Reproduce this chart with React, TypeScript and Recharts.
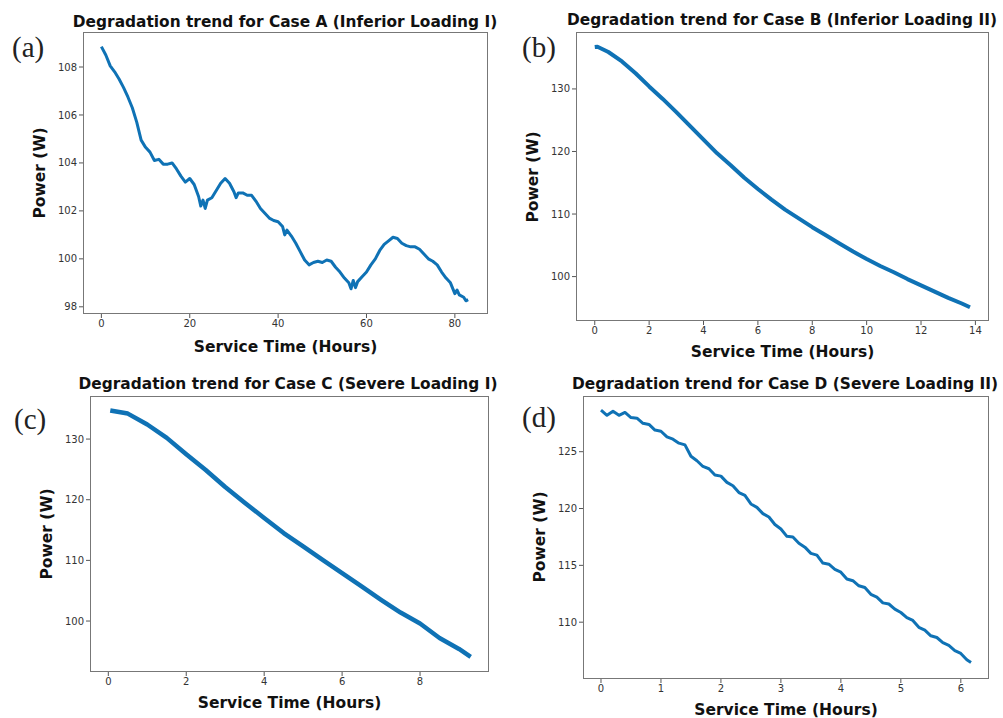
import { LineChart, Line, XAxis, YAxis } from "recharts";

// Case A (Inferior Loading I)
const hoursA = [
  0, 1, 2, 3, 4, 5, 6, 7, 8, 9, 10, 11, 12, 13, 14, 15, 16, 17, 18, 19, 20, 21, 22, 22.5, 23, 23.5, 24,
  25, 26, 27, 28, 29, 30, 30.5, 31, 32, 33, 34, 35, 36, 37, 38, 39, 40, 41, 41.5, 42, 43, 44, 45, 46,
  47, 48, 49, 50, 51, 52, 53, 54, 55, 56, 56.5, 57, 57.5, 58, 59, 60, 61, 62, 63, 64, 65, 66, 67, 68,
  69, 70, 71, 72, 73, 74, 75, 76, 77, 78, 79, 80, 80.5, 81, 82, 82.5, 83,
];
const powerA = [
  108.85, 108.5, 108.05, 107.8, 107.5, 107.15, 106.75, 106.3, 105.7, 104.95, 104.65, 104.45, 104.1,
  104.15, 103.95, 103.95, 104.0, 103.75, 103.45, 103.2, 103.35, 103.1, 102.6, 102.2, 102.45, 102.1,
  102.45, 102.55, 102.85, 103.15, 103.35, 103.15, 102.8, 102.55, 102.75, 102.75, 102.65, 102.65,
  102.4, 102.1, 101.9, 101.7, 101.6, 101.55, 101.35, 101.0, 101.2, 100.95, 100.65, 100.3, 99.95,
  99.75, 99.85, 99.9, 99.85, 99.95, 99.9, 99.65, 99.45, 99.2, 99.0, 98.75, 99.1, 98.8, 99.05, 99.25,
  99.45, 99.75, 100.0, 100.35, 100.6, 100.75, 100.9, 100.85, 100.65, 100.55, 100.5, 100.5, 100.4,
  100.2, 100.0, 99.9, 99.75, 99.45, 99.2, 99.0, 98.55, 98.7, 98.5, 98.4, 98.25, 98.3,
];

// Case B (Inferior Loading II)
const hoursB = [
  0, 0.1, 0.5, 1, 1.5, 2, 2.5, 3, 3.5, 4, 4.5, 5, 5.5, 6, 6.5, 7, 7.5, 8, 8.5, 9, 9.5, 10, 10.5, 11,
  11.5, 12, 12.5, 13, 13.5, 13.8,
];
const powerB = [
  136.7, 136.75, 135.9, 134.4, 132.5, 130.4, 128.4, 126.3, 124.1, 121.9, 119.7, 117.8, 115.8, 114.0,
  112.3, 110.7, 109.3, 107.9, 106.6, 105.3, 104.0, 102.8, 101.7, 100.7, 99.6, 98.6, 97.6, 96.6, 95.7,
  95.1,
];

// Case C (Severe Loading I)
const hoursC = [
  0.05, 0.5, 1, 1.5, 2, 2.5, 3, 3.5, 4, 4.5, 5, 5.5, 6, 6.5, 7, 7.5, 8, 8.5, 9, 9.3,
];
const powerC = [
  134.7, 134.2, 132.4, 130.2, 127.5, 124.9, 122.1, 119.5, 117.0, 114.5, 112.3, 110.1, 107.9, 105.7,
  103.5, 101.4, 99.6, 97.2, 95.4, 94.1,
];

// Case D (Severe Loading II)
const hoursD = [
  0, 0.1, 0.2, 0.3, 0.4, 0.5, 0.6, 0.7, 0.8, 0.9, 1.0, 1.1, 1.2, 1.3, 1.4, 1.5, 1.6, 1.7, 1.8, 1.9,
  2.0, 2.1, 2.2, 2.3, 2.4, 2.5, 2.6, 2.7, 2.8, 2.9, 3.0, 3.1, 3.2, 3.3, 3.4, 3.5, 3.6, 3.7, 3.8, 3.9,
  4.0, 4.1, 4.2, 4.3, 4.4, 4.5, 4.6, 4.7, 4.8, 4.9, 5.0, 5.1, 5.2, 5.3, 5.4, 5.5, 5.6, 5.7, 5.8, 5.9,
  6.0, 6.1, 6.17,
];
const powerD = [
  128.65, 128.2, 128.55, 128.2, 128.45, 128.0, 127.95, 127.5, 127.4, 126.9, 126.8, 126.3, 126.1,
  125.75, 125.6, 124.6, 124.2, 123.7, 123.5, 122.95, 122.85, 122.3, 122.0, 121.4, 121.15, 120.4,
  120.1, 119.55, 119.25, 118.6, 118.2, 117.55, 117.5, 116.95, 116.6, 116.05, 115.9, 115.2, 115.1,
  114.65, 114.4, 113.8, 113.65, 113.2, 113.05, 112.45, 112.2, 111.7, 111.6, 111.15, 110.85, 110.4,
  110.15, 109.55, 109.3, 108.8, 108.65, 108.2, 107.95, 107.5, 107.25, 106.7, 106.45,
];

const ticksXA = [0, 20, 40, 60, 80];
const ticksYA = [98, 100, 102, 104, 106, 108];
const ticksXB = [0, 2, 4, 6, 8, 10, 12, 14];
const ticksYB = [100, 110, 120, 130];
const ticksXC = [0, 2, 4, 6, 8];
const ticksYC = [100, 110, 120, 130];
const ticksXD = [0, 1, 2, 3, 4, 5, 6];
const ticksYD = [110, 115, 120, 125];

const LINE = "#0f72b5";
const SANS = "'DejaVu Sans', sans-serif";
const tickStyle = { fontSize: 10, fill: "#333", fontFamily: SANS };

type PanelProps = {
  hours: number[];
  power: number[];
  left: number;
  top: number;
  width: number;
  height: number;
  yAxisW: number;
  xAxisH: number;
  mTop: number;
  mRight: number;
  xDomain: [number, number];
  yDomain: [number, number];
  xTicks: number[];
  yTicks: number[];
  stroke: number;
  title: string;
  titleX: number;
  titleY: number;
  xLabelY: number;
  yLabelX: number;
  yLabelY: number;
  tag: string;
  tagX: number;
  tagY: number;
};

function Panel(p: PanelProps) {
  const rows = p.hours.map((t, i) => ({ t, p: p.power[i] }));
  const frameL = p.left + p.yAxisW;
  const frameT = p.top + p.mTop;
  const frameW = p.width - p.yAxisW - p.mRight;
  const frameH = p.height - p.mTop - p.xAxisH;
  return (
    <>
      <div style={{ position: "absolute", left: p.left, top: p.top }}>
        <LineChart
          width={p.width}
          height={p.height}
          data={rows}
          margin={{ top: p.mTop, right: p.mRight, bottom: 0, left: 0 }}
        >
          <XAxis
            dataKey="t"
            type="number"
            domain={p.xDomain}
            ticks={p.xTicks}
            allowDataOverflow
            height={p.xAxisH}
            axisLine={false}
            tickSize={4}
            tickLine={{ stroke: "#555" }}
            tick={tickStyle}
          />
          <YAxis
            type="number"
            domain={p.yDomain}
            ticks={p.yTicks}
            allowDataOverflow
            width={p.yAxisW}
            axisLine={false}
            tickSize={4}
            tickLine={{ stroke: "#555" }}
            tick={tickStyle}
          />
          <Line
            dataKey="p"
            stroke={LINE}
            strokeWidth={p.stroke}
            dot={false}
            strokeLinejoin="round"
            isAnimationActive={false}
          />
        </LineChart>
      </div>
      <div
        style={{
          position: "absolute",
          left: frameL,
          top: frameT,
          width: frameW,
          height: frameH,
          boxSizing: "border-box",
          border: "1.3px solid #777",
          pointerEvents: "none",
        }}
      />
      <div
        style={{
          position: "absolute",
          left: p.titleX - 300,
          width: 600,
          top: p.titleY - 10,
          textAlign: "center",
          fontFamily: SANS,
          fontWeight: "bold",
          fontSize: 15.4,
          lineHeight: "20px",
          color: "#111",
          whiteSpace: "nowrap",
        }}
      >
        {p.title}
      </div>
      <div
        style={{
          position: "absolute",
          left: frameL + frameW / 2 - 200,
          width: 400,
          top: p.xLabelY - 10,
          textAlign: "center",
          fontFamily: SANS,
          fontWeight: "bold",
          fontSize: 15.5,
          lineHeight: "20px",
          color: "#111",
        }}
      >
        Service Time (Hours)
      </div>
      <div
        style={{
          position: "absolute",
          left: p.yLabelX - 100,
          top: p.yLabelY - 10,
          width: 200,
          textAlign: "center",
          fontFamily: SANS,
          fontWeight: "bold",
          fontSize: 15.5,
          lineHeight: "20px",
          color: "#111",
          transform: "rotate(-90deg)",
        }}
      >
        Power (W)
      </div>
      <div
        style={{
          position: "absolute",
          left: p.tagX,
          top: p.tagY - 18,
          fontFamily: "'Liberation Serif', 'DejaVu Serif', serif",
          fontSize: 29,
          lineHeight: "36px",
          color: "#222",
        }}
      >
        {p.tag}
      </div>
    </>
  );
}

export default function App() {
  return (
    <div
      style={{
        position: "absolute",
        left: 0,
        top: 0,
        width: 1003,
        height: 718,
        background: "#fff",
        overflow: "hidden",
      }}
    >
      <Panel
        hours={hoursA}
        power={powerA}
        left={0}
        top={0}
        width={500}
        height={360}
        yAxisW={83}
        xAxisH={46}
        mTop={32}
        mRight={12}
        xDomain={[-4.16, 87.5]}
        yDomain={[97.7, 109.46]}
        xTicks={ticksXA}
        yTicks={ticksYA}
        stroke={3}
        title="Degradation trend for Case A (Inferior Loading I)"
        titleX={285}
        titleY={22}
        xLabelY={347}
        yLabelX={40}
        yLabelY={173}
        tag="(a)"
        tagX={12}
        tagY={47}
      />
      <Panel
        hours={hoursB}
        power={powerB}
        left={500}
        top={0}
        width={503}
        height={360}
        yAxisW={76}
        xAxisH={39}
        mTop={32}
        mRight={14}
        xDomain={[-0.69, 14.5]}
        yDomain={[92.9, 139.1]}
        xTicks={ticksXB}
        yTicks={ticksYB}
        stroke={4}
        title="Degradation trend for Case B (Inferior Loading II)"
        titleX={782}
        titleY={20}
        xLabelY={352}
        yLabelX={533}
        yLabelY={177}
        tag="(b)"
        tagX={522}
        tagY={47}
      />
      <Panel
        hours={hoursC}
        power={powerC}
        left={0}
        top={360}
        width={500}
        height={358}
        yAxisW={90}
        xAxisH={46}
        mTop={36}
        mRight={11}
        xDomain={[-0.47, 9.77]}
        yDomain={[91.6, 137.1]}
        xTicks={ticksXC}
        yTicks={ticksYC}
        stroke={4.5}
        title="Degradation trend for Case C (Severe Loading I)"
        titleX={288}
        titleY={384}
        xLabelY={703}
        yLabelX={47}
        yLabelY={534}
        tag="(c)"
        tagX={14}
        tagY={419}
      />
      <Panel
        hours={hoursD}
        power={powerD}
        left={500}
        top={360}
        width={503}
        height={358}
        yAxisW={83}
        xAxisH={39}
        mTop={36}
        mRight={14}
        xDomain={[-0.3, 6.47]}
        yDomain={[105.0, 129.9]}
        xTicks={ticksXD}
        yTicks={ticksYD}
        stroke={3}
        title="Degradation trend for Case D (Severe Loading II)"
        titleX={785}
        titleY={384}
        xLabelY={710}
        yLabelX={540}
        yLabelY={537}
        tag="(d)"
        tagX={522}
        tagY={417}
      />
    </div>
  );
}
